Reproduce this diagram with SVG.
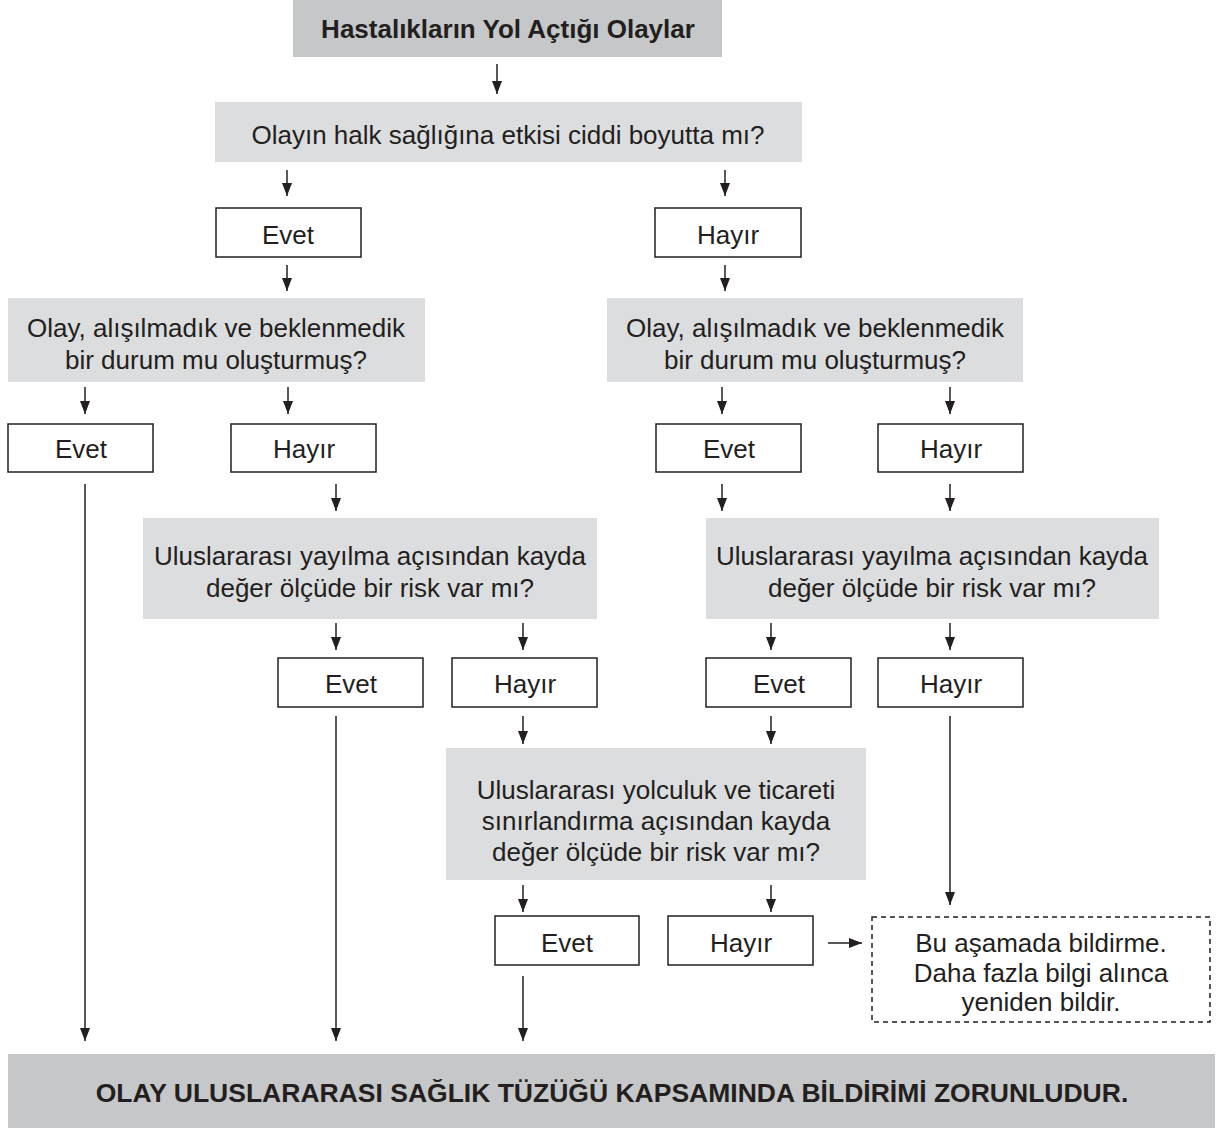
<svg xmlns="http://www.w3.org/2000/svg" width="1230" height="1128" viewBox="0 0 1230 1128">
<style>
  text { font-family: "Liberation Sans", Arial, sans-serif; fill: #231f20; text-anchor: middle; }
  .t { font-size: 26px; }
  .b { font-size: 26px; font-weight: bold; }
  .bb { font-size: 26.5px; font-weight: bold; }
  .dark { fill: #c6c7c9; }
  .light { fill: #dcdddf; }
  .box { fill: #ffffff; stroke: #231f20; stroke-width: 1.5; }
  .dash { fill: #ffffff; stroke: #231f20; stroke-width: 1.5; stroke-dasharray: 5 4; }
  .c { stroke: #231f20; stroke-width: 1.5; fill: none; marker-end: url(#ah); }
</style>
<defs>
  <marker id="ah" markerUnits="userSpaceOnUse" markerWidth="13" markerHeight="14" viewBox="0 0 13 14" refX="13" refY="5" orient="auto">
    <path d="M0,0 L13,5 L0,10 Z" fill="#231f20"/>
  </marker>
</defs>
<rect width="1230" height="1128" fill="#ffffff"/>

<g id="n-title"><rect class="dark" x="293" y="0" width="429" height="57"/><text class="b" x="508" y="38">Hastalıkların Yol Açtığı Olaylar</text></g>
<g id="n-q1"><rect class="light" x="215" y="102" width="587" height="60"/><text class="t" x="508" y="144">Olayın halk sağlığına etkisi ciddi boyutta mı?</text></g>
<g id="n-e1"><rect class="box" x="216" y="208" width="145" height="49"/><text class="t" x="288" y="244">Evet</text></g>
<g id="n-h1"><rect class="box" x="655" y="208" width="146" height="49"/><text class="t" x="728" y="244">Hayır</text></g>

<g id="n-q2l"><rect class="light" x="8" y="298" width="417" height="84"/><text class="t" x="216" y="337">Olay, alışılmadık ve beklenmedik</text><text class="t" x="216" y="369">bir durum mu oluşturmuş?</text></g>
<g id="n-q2r"><rect class="light" x="607" y="298" width="416" height="84"/><text class="t" x="815" y="337">Olay, alışılmadık ve beklenmedik</text><text class="t" x="815" y="369">bir durum mu oluşturmuş?</text></g>

<g id="n-e2l"><rect class="box" x="8" y="424" width="145" height="48"/><text class="t" x="81" y="458">Evet</text></g>
<g id="n-h2l"><rect class="box" x="231" y="424" width="145" height="48"/><text class="t" x="304" y="458">Hayır</text></g>
<g id="n-e2r"><rect class="box" x="656" y="424" width="145" height="48"/><text class="t" x="729" y="458">Evet</text></g>
<g id="n-h2r"><rect class="box" x="878" y="424" width="145" height="48"/><text class="t" x="951" y="458">Hayır</text></g>

<g id="n-q3l"><rect class="light" x="143" y="518" width="454" height="101"/><text class="t" x="370" y="565">Uluslararası yayılma açısından kayda</text><text class="t" x="370" y="597">değer ölçüde bir risk var mı?</text></g>
<g id="n-q3r"><rect class="light" x="706" y="518" width="453" height="101"/><text class="t" x="932" y="565">Uluslararası yayılma açısından kayda</text><text class="t" x="932" y="597">değer ölçüde bir risk var mı?</text></g>

<g id="n-e3l"><rect class="box" x="278" y="658" width="145" height="49"/><text class="t" x="351" y="693">Evet</text></g>
<g id="n-h3l"><rect class="box" x="452" y="658" width="145" height="49"/><text class="t" x="525" y="693">Hayır</text></g>
<g id="n-e3r"><rect class="box" x="706" y="658" width="145" height="49"/><text class="t" x="779" y="693">Evet</text></g>
<g id="n-h3r"><rect class="box" x="878" y="658" width="145" height="49"/><text class="t" x="951" y="693">Hayır</text></g>

<g id="n-q4"><rect class="light" x="446" y="748" width="420" height="132"/><text class="t" x="656" y="799">Uluslararası yolculuk ve ticareti</text><text class="t" x="656" y="830">sınırlandırma açısından kayda</text><text class="t" x="656" y="861">değer ölçüde bir risk var mı?</text></g>

<g id="n-e4"><rect class="box" x="495" y="916" width="144" height="49"/><text class="t" x="567" y="952">Evet</text></g>
<g id="n-h4"><rect class="box" x="668" y="916" width="145" height="49"/><text class="t" x="741" y="952">Hayır</text></g>

<g id="n-note"><rect class="dash" x="872" y="917" width="338" height="105"/><text class="t" x="1041" y="952">Bu aşamada bildirme.</text><text class="t" x="1041" y="982">Daha fazla bilgi alınca</text><text class="t" x="1041" y="1011">yeniden bildir.</text></g>

<g id="n-final"><rect class="dark" x="8" y="1054" width="1207" height="74"/><text class="bb" x="612" y="1102">OLAY ULUSLARARASI SAĞLIK TÜZÜĞÜ KAPSAMINDA BİLDİRİMİ ZORUNLUDUR.</text></g>

<g id="connectors">
  <line class="c" x1="497" y1="64" x2="497" y2="94"/>
  <line class="c" x1="287" y1="170" x2="287" y2="196"/>
  <line class="c" x1="725" y1="170" x2="725" y2="196"/>
  <line class="c" x1="287" y1="265" x2="287" y2="291"/>
  <line class="c" x1="725" y1="265" x2="725" y2="291"/>
  <line class="c" x1="85" y1="387" x2="85" y2="414"/>
  <line class="c" x1="288" y1="387" x2="288" y2="414"/>
  <line class="c" x1="722" y1="387" x2="722" y2="414"/>
  <line class="c" x1="950" y1="387" x2="950" y2="414"/>
  <line class="c" x1="85" y1="484" x2="85" y2="1041"/>
  <line class="c" x1="336" y1="484" x2="336" y2="511"/>
  <line class="c" x1="722" y1="484" x2="722" y2="511"/>
  <line class="c" x1="950" y1="484" x2="950" y2="511"/>
  <line class="c" x1="336" y1="623" x2="336" y2="650"/>
  <line class="c" x1="523" y1="623" x2="523" y2="650"/>
  <line class="c" x1="771" y1="623" x2="771" y2="650"/>
  <line class="c" x1="950" y1="623" x2="950" y2="650"/>
  <line class="c" x1="336" y1="716" x2="336" y2="1041"/>
  <line class="c" x1="523" y1="716" x2="523" y2="744"/>
  <line class="c" x1="771" y1="716" x2="771" y2="744"/>
  <line class="c" x1="950" y1="716" x2="950" y2="905"/>
  <line class="c" x1="523" y1="885" x2="523" y2="912"/>
  <line class="c" x1="771" y1="885" x2="771" y2="912"/>
  <line class="c" x1="828" y1="943" x2="862" y2="943"/>
  <line class="c" x1="523" y1="976" x2="523" y2="1041"/>
</g>
</svg>
